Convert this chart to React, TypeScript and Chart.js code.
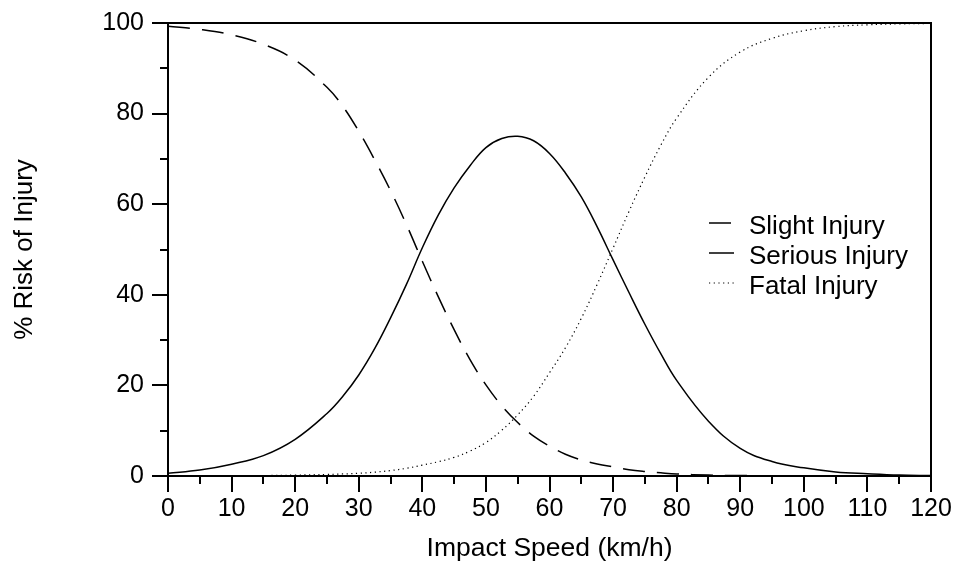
import React, { useEffect, useRef } from "react";
import { Chart, registerables } from "chart.js";

Chart.register(...registerables);

// Impact speed (km/h)
const speeds = [
  0, 5, 10, 15, 20, 25,
  27.5, 30, 32.5, 35, 37.5, 40, 42.5, 45, 47.5, 50, 52.5, 55, 57.5, 60, 62.5, 65, 67.5, 70, 72.5, 75, 77.5, 80,
  85, 90, 95, 100, 105, 110, 115, 120,
];
// % risk
const slightInjury = [
  99.3, 98.6, 97.4, 95.3, 91.8, 85.8,
  81.6, 76.1, 69.8, 63.0, 55.5, 47.4, 39.6, 32.3, 25.7, 20.1, 15.5, 11.8, 8.8, 6.6, 4.8, 3.55, 2.65, 2.0, 1.4, 1.0, 0.7, 0.45,
  0.2, 0.1, 0.05, 0, 0, 0, 0, 0,
];
const seriousInjury = [
  0.6, 1.3, 2.6, 4.5, 8.1, 13.8,
  17.6, 22.3, 28.1, 34.9, 42.3, 50.4, 57.6, 63.6, 68.5, 72.5, 74.5, 75.0, 74.0, 71.2, 66.9, 61.6, 55.0, 47.7, 40.5, 33.5, 27.0, 21.1,
  12.1, 6.1, 3.2, 1.8, 0.9, 0.5, 0.2, 0.1,
];
const fatalInjury = [
  0, 0.02, 0.05, 0.1, 0.2, 0.35,
  0.45, 0.6, 0.85, 1.2, 1.7, 2.4, 3.15, 4.1, 5.5, 7.4, 10.1, 13.5, 17.6, 22.8, 28.3, 34.8, 42.3, 50.3, 58.4, 66.0, 73.0, 79.0,
  88.0, 93.6, 96.6, 98.3, 99.2, 99.6, 99.8, 99.9,
];

const seriesLabels = ["Slight Injury", "Serious Injury", "Fatal Injury"];
const xMinorTicks = [5, 15, 25, 35, 45, 55, 65, 75, 85, 95, 105, 115];
const yMinorTicks = [10, 30, 50, 70, 90];

const FONT = '"Liberation Sans", Arial, Helvetica, sans-serif';

const framePlugin = {
  id: "frameAndMinor",
  afterDatasetsDraw(chart: any) {
    const { ctx, chartArea, scales } = chart;
    const x = scales.x;
    const y = scales.y;
    ctx.save();
    ctx.strokeStyle = "#000";
    ctx.lineWidth = 2;
    ctx.beginPath();
    ctx.moveTo(chartArea.left, chartArea.top);
    ctx.lineTo(chartArea.right, chartArea.top);
    ctx.lineTo(chartArea.right, chartArea.bottom);
    for (const v of xMinorTicks) {
      const px = Math.round(x.getPixelForValue(v));
      ctx.moveTo(px, chartArea.bottom);
      ctx.lineTo(px, chartArea.bottom + 8);
    }
    for (const v of yMinorTicks) {
      const py = Math.round(y.getPixelForValue(v));
      ctx.moveTo(chartArea.left, py);
      ctx.lineTo(chartArea.left - 8, py);
    }
    ctx.stroke();
    ctx.restore();
  },
};

const legendPlugin = {
  id: "insideLegend",
  afterDraw(chart: any, _args: any, opts: any) {
    const { ctx } = chart;
    ctx.save();
    ctx.font = `26px ${FONT}`;
    ctx.fillStyle = "#000";
    ctx.textBaseline = "alphabetic";
    ctx.textAlign = "left";
    chart.data.datasets.forEach((ds: any, i: number) => {
      const lineY = opts.lineY0 + i * opts.rowGap;
      const baseY = opts.textY0 + i * opts.rowGap;
      ctx.beginPath();
      ctx.strokeStyle = "#000";
      ctx.lineWidth = ds.borderWidth;
      ctx.setLineDash(ds.borderDash || []);
      ctx.moveTo(opts.lineX0, lineY);
      ctx.lineTo(opts.lineX1, lineY);
      ctx.stroke();
      ctx.setLineDash([]);
      ctx.fillText(ds.label, opts.textX, baseY);
    });
    ctx.restore();
  },
};

export default function App() {
  const canvasRef = useRef<HTMLCanvasElement | null>(null);

  useEffect(() => {
    if (!canvasRef.current) return;
    Chart.defaults.font.family = FONT;
    const mk = (vals: number[]) => speeds.map((s, i) => ({ x: s, y: vals[i] }));
    const common = {
      borderColor: "#000",
      pointRadius: 0,
      tension: 0.4,
      fill: false,
    };
    const chart = new Chart(canvasRef.current, {
      type: "line",
      data: {
        datasets: [
          { ...common, label: seriesLabels[0], data: mk(slightInjury), borderWidth: 1.5, borderDash: [22, 12] },
          { ...common, label: seriesLabels[1], data: mk(seriousInjury), borderWidth: 1.5 },
          { ...common, label: seriesLabels[2], data: mk(fatalInjury), borderWidth: 1.2, borderDash: [1.2, 3.5] },
        ],
      },
      options: {
        animation: false,
        responsive: false,
        layout: { padding: { top: 20, right: 27, left: 0, bottom: 0 } },
        plugins: {
          legend: { display: false },
          tooltip: { enabled: false },
          insideLegend: {
            lineX0: 709,
            lineX1: 734,
            textX: 749,
            lineY0: 223,
            textY0: 234,
            rowGap: 30,
          },
        } as any,
        scales: {
          x: {
            type: "linear",
            min: 0,
            max: 120,
            ticks: {
              stepSize: 10,
              color: "#000",
              font: { size: 25, family: FONT },
              padding: 2,
              maxRotation: 0,
            },
            grid: {
              drawOnChartArea: false,
              drawTicks: true,
              tickLength: 16,
              color: "#000",
              lineWidth: 2,
            },
            border: { display: true, color: "#000", width: 2 },
            title: {
              display: true,
              text: "Impact Speed (km/h)",
              color: "#000",
              font: { size: 26.5, family: FONT },
              padding: { top: 0, bottom: 2 },
            },
            afterFit: (scale: any) => {
              scale.height = 91;
            },
          },
          y: {
            type: "linear",
            min: 0,
            max: 100,
            ticks: {
              stepSize: 20,
              color: "#000",
              font: { size: 25, family: FONT },
              padding: 8,
            },
            grid: {
              drawOnChartArea: false,
              drawTicks: true,
              tickLength: 16,
              color: "#000",
              lineWidth: 2,
            },
            border: { display: true, color: "#000", width: 2 },
            title: {
              display: true,
              text: "% Risk of Injury",
              color: "#000",
              font: { size: 26, family: FONT },
              padding: { top: 9, bottom: 0 },
            },
            afterFit: (scale: any) => {
              scale.width = 168;
            },
          },
        },
      },
      plugins: [framePlugin, legendPlugin],
    });
    return () => chart.destroy();
  }, []);

  return (
    <div style={{ position: "fixed", left: 0, top: 0, width: 958, height: 567, background: "#fff" }}>
      <canvas ref={canvasRef} width={958} height={567} style={{ display: "block" }} />
    </div>
  );
}
